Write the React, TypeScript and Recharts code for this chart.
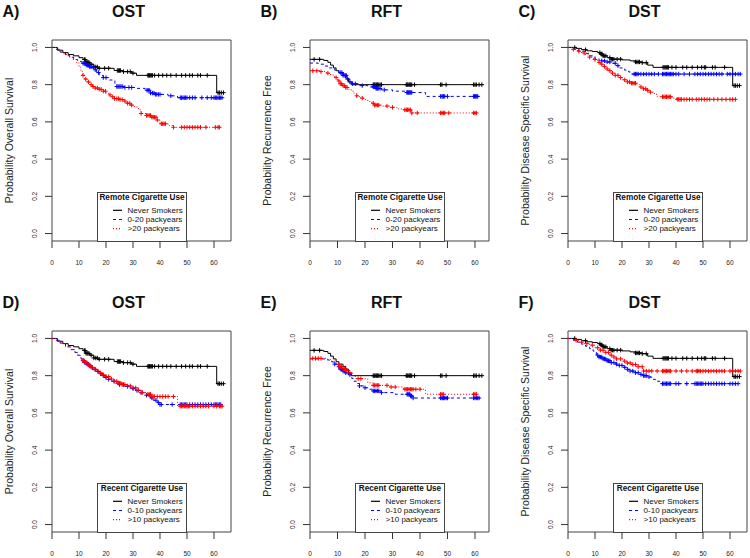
import React from "react";
import { ComposedChart, Line, Scatter, XAxis, YAxis, ReferenceArea, Legend } from "recharts";

const FONT = '"Liberation Sans", Arial, Helvetica, sans-serif';
const X_TICKS = [0, 10, 20, 30, 40, 50, 60];
const Y_TICKS = [0, 0.2, 0.4, 0.6, 0.8, 1.0];
const Y_MIN = -0.04;
const Y_MAX = 1.04;

const BLACK = "#000000";
const BLUE = "#0000FF";
const RED = "#FF0000";

// ---------- OST: never smokers (A, D) ----------
const ostNeverT = [0, 2, 4, 6, 8, 10, 11.5, 12.5, 14, 15.5, 17, 23, 26, 29.5, 31.3, 61];
const ostNeverS = [1, 0.985, 0.972, 0.962, 0.955, 0.945, 0.935, 0.92, 0.91, 0.895, 0.888, 0.876, 0.87, 0.862, 0.85, 0.757];
const ostNeverC = [12, 12.3, 12.6, 13, 13.3, 13.7, 14.5, 15.5, 16.2, 16.8, 17.5, 19.5, 21, 24.2, 24.6, 25, 25.4, 26.5, 28, 29, 30, 35.5, 35.8, 36.1, 36.4, 36.8, 37.2, 38, 39.5, 41, 42.5, 44, 46, 48, 49.5, 51, 52, 54, 55, 57.5, 61.5, 62, 62.7, 63.5];

// A: remote 0-20
const ostRem020T = [0, 1.5, 3, 5, 6.5, 8, 9.5, 11, 12.5, 14, 15.5, 16.5, 17.5, 19, 21, 23.3, 27, 31, 34.5, 36.5, 38, 43, 46.5];
const ostRem020S = [1, 0.99, 0.975, 0.958, 0.948, 0.935, 0.925, 0.915, 0.905, 0.895, 0.88, 0.865, 0.85, 0.838, 0.825, 0.79, 0.785, 0.78, 0.77, 0.755, 0.748, 0.74, 0.73];
const ostRem020C = [11.5, 11.9, 12.3, 12.7, 13.1, 13.5, 14, 14.5, 15.2, 16, 17.2, 19, 20, 24, 24.4, 24.8, 25.2, 25.6, 26.2, 27, 28.5, 29.5, 35.2, 35.6, 36, 36.5, 37.2, 37.8, 38.3, 38.8, 39.4, 40, 44, 47.5, 48, 48.5, 49, 49.5, 50, 51, 52, 53, 55.5, 57.5, 59, 60, 60.5, 61, 61.5, 62, 62.5, 63];

// A: remote >20
const ostRem20T = [0, 1.5, 3, 4.5, 6, 7.5, 9, 10, 10.7, 11.3, 12, 13, 14, 15, 16, 17.5, 19, 20, 21, 22, 23, 25, 26.5, 27.5, 29, 30.5, 32, 33, 35, 37, 39, 40, 43, 45];
const ostRem20S = [1, 0.99, 0.975, 0.962, 0.948, 0.935, 0.92, 0.895, 0.87, 0.85, 0.83, 0.815, 0.8, 0.79, 0.782, 0.775, 0.765, 0.755, 0.745, 0.735, 0.725, 0.72, 0.712, 0.7, 0.69, 0.68, 0.665, 0.645, 0.635, 0.625, 0.61, 0.59, 0.58, 0.571];
const ostRem20C = [11.5, 12.5, 13.5, 14.5, 15.2, 16, 16.8, 17.5, 18.2, 19, 19.8, 21.5, 22.5, 23.2, 24, 24.6, 25.2, 26, 27, 28, 28.8, 29.5, 33, 35, 35.5, 36, 36.5, 37, 37.5, 38, 38.5, 39, 40.5, 41, 41.5, 42, 45, 48, 49, 50, 51, 52, 53, 54, 55, 57, 60.5, 61.5, 62];

// D: recent 0-10
const ostRec010T = [0, 1.5, 3, 5, 7, 8.5, 9.5, 10.3, 11, 12, 13, 14, 15, 16, 17, 18, 19, 20, 21, 22, 23.5, 25, 27, 29, 31, 33, 35, 36.5, 37.5, 39, 40];
const ostRec010S = [1, 0.99, 0.975, 0.955, 0.94, 0.925, 0.91, 0.895, 0.882, 0.872, 0.862, 0.852, 0.842, 0.832, 0.822, 0.81, 0.8, 0.79, 0.78, 0.77, 0.76, 0.752, 0.742, 0.73, 0.72, 0.708, 0.695, 0.68, 0.668, 0.655, 0.645];
const ostRec010C = [11.5, 12, 12.5, 13, 13.5, 14, 15, 16, 17, 18, 19, 20, 21, 23, 25, 26.5, 28, 30, 31.5, 33, 35, 36, 37, 38.5, 39.5, 40, 40.5, 44.5, 47.5, 48, 48.5, 49, 49.5, 50, 51, 52, 53, 54, 55, 56, 57, 58, 59, 60, 60.5, 61, 61.5, 62, 62.5];

// D: recent >10
const ostRec10T = [0, 1.5, 3, 5, 7, 8.5, 9.5, 10.5, 11.5, 12.5, 13.5, 14.5, 15.5, 16.5, 17.5, 19, 20, 21.5, 23, 24.5, 26, 28, 30, 32, 33.5, 35, 37, 46.5];
const ostRec10S = [1, 0.99, 0.975, 0.955, 0.94, 0.925, 0.91, 0.895, 0.88, 0.868, 0.857, 0.845, 0.835, 0.825, 0.815, 0.805, 0.795, 0.782, 0.77, 0.76, 0.752, 0.745, 0.735, 0.722, 0.71, 0.7, 0.688, 0.636];
const ostRec10C = [11.5, 12, 12.5, 13, 13.5, 14, 14.5, 15, 16, 17, 18, 19, 20, 21, 22, 23, 24, 24.5, 25, 25.5, 26, 27, 28, 29, 30, 31, 32, 33.5, 35.5, 36, 36.5, 37, 37.5, 38, 39, 40, 41, 42, 43, 45, 47.5, 48, 48.5, 49, 49.5, 50, 50.5, 51, 52, 53, 54, 55, 56, 57, 58, 60, 61, 62, 62.5, 63];

// ---------- RFT: never smokers (B, E) ----------
const rftNeverT = [0, 5, 6.5, 7.5, 8.5, 9.5, 10.5, 12, 13, 14, 15];
const rftNeverS = [0.936, 0.93, 0.92, 0.905, 0.89, 0.875, 0.862, 0.85, 0.835, 0.815, 0.8];
const rftNeverC = [1.5, 3.5, 23, 23.3, 23.6, 24, 24.3, 24.6, 25, 25.5, 26, 35, 35.3, 35.6, 36, 36.3, 36.6, 37, 38, 47.5, 48, 49.5, 59.5, 60, 60.5, 61.5, 62.5];

// B: remote 0-20
const rftRem020T = [0, 3, 5, 7, 9, 10.5, 12, 13.5, 14.5, 15.5, 18, 21, 24, 26, 30, 35, 42];
const rftRem020S = [0.916, 0.91, 0.9, 0.89, 0.878, 0.865, 0.85, 0.83, 0.815, 0.805, 0.795, 0.788, 0.78, 0.772, 0.765, 0.758, 0.737];
const rftRem020C = [11.2, 11.6, 12, 12.4, 12.8, 13.2, 13.6, 14.5, 15.5, 16.5, 19, 23, 23.3, 23.6, 24, 24.3, 24.6, 25, 25.5, 27, 35.2, 35.5, 35.8, 36.1, 36.4, 36.7, 37, 47.5, 48, 48.3, 48.6, 49, 50, 59.5, 59.8, 60.1, 60.4, 60.7, 61];

// B: remote >20
const rftRem20T = [0, 4, 6, 7.5, 9, 10, 11, 12, 13, 14, 15, 16, 17, 18, 19.5, 21, 22.5, 23.5, 26, 29, 32, 34, 37];
const rftRem20S = [0.875, 0.87, 0.862, 0.852, 0.838, 0.82, 0.805, 0.795, 0.785, 0.775, 0.765, 0.752, 0.74, 0.728, 0.72, 0.71, 0.7, 0.69, 0.685, 0.678, 0.67, 0.665, 0.648];
const rftRem20C = [1, 2.5, 4, 6.5, 9.5, 10.5, 11, 11.5, 12, 12.5, 13, 13.5, 17, 19, 23, 23.5, 24, 24.5, 25, 28, 30, 34.5, 35, 35.5, 36, 36.5, 37, 39, 47.5, 48, 48.5, 49, 50.5, 59.5, 60, 60.5];

// E: recent 0-10
const rftRec010T = [0, 5.5, 7, 8.5, 10, 11, 12, 13, 14.5, 15.2, 16, 17, 18, 19.5, 21, 23, 26, 31, 36.5, 37.5];
const rftRec010S = [0.89, 0.885, 0.875, 0.862, 0.848, 0.835, 0.825, 0.815, 0.805, 0.785, 0.77, 0.758, 0.745, 0.735, 0.727, 0.718, 0.709, 0.7, 0.691, 0.68];
const rftRec010C = [9, 10.5, 11, 11.5, 12, 12.5, 13, 14, 14.5, 18, 20, 23, 23.5, 24, 24.5, 25, 26, 35.3, 35.6, 36, 36.3, 36.6, 37, 37.5, 47.5, 48, 48.3, 48.6, 49, 49.5, 50, 59.5, 60, 60.5, 61, 61.5];

// E: recent >10
const rftRec10T = [0, 6, 7.5, 9, 10, 11, 12, 13, 14.5, 15.5, 16.5, 21, 23, 29, 34, 42];
const rftRec10S = [0.893, 0.888, 0.878, 0.868, 0.858, 0.848, 0.838, 0.828, 0.816, 0.8, 0.784, 0.762, 0.748, 0.739, 0.727, 0.7];
const rftRec10C = [1, 2, 3, 4, 10.5, 11, 11.5, 12, 12.5, 13, 13.5, 14.5, 17.5, 18.5, 23, 23.5, 24, 24.5, 25, 28, 29.5, 31, 34.5, 35, 35.5, 36, 36.5, 37, 37.5, 38.5, 40, 47.5, 48, 48.5, 59.5, 60, 60.5];

// ---------- DST: never smokers (C, F) ----------
const dstNeverT = [0, 3, 5, 7, 9, 11, 12, 13, 14.5, 16, 20, 23, 25, 27.5, 29.5, 31.5, 61];
const dstNeverS = [1, 0.995, 0.988, 0.982, 0.978, 0.972, 0.965, 0.955, 0.945, 0.937, 0.933, 0.928, 0.922, 0.918, 0.905, 0.893, 0.795];
const dstNeverC = [2.5, 6.5, 11.8, 12.2, 12.6, 13, 13.4, 14, 15.5, 16, 16.5, 17, 18.2, 19.5, 25, 25.5, 26, 26.5, 27.5, 29, 35.2, 35.6, 36, 36.4, 36.8, 37.2, 38.5, 40, 42.5, 44, 46, 48, 49.5, 50.5, 51, 53.5, 54.5, 58, 61.5, 62, 62.7, 63.5];

// C: remote 0-20
const dstRem020T = [0, 2, 4, 6, 8, 10, 11.5, 14, 16.5, 18, 19, 21, 22.5, 23.5];
const dstRem020S = [1, 0.992, 0.98, 0.968, 0.955, 0.94, 0.928, 0.922, 0.915, 0.902, 0.89, 0.878, 0.868, 0.857];
const dstRem020C = [12.5, 13.5, 14.5, 15.5, 17.5, 18.5, 24.5, 25, 25.5, 26, 27, 28, 29, 30, 31, 32, 33.5, 35, 35.5, 36, 36.5, 37, 37.5, 38, 38.5, 39, 40, 41, 43, 45, 47, 48, 49, 50, 51, 52, 53, 54, 55, 56, 57, 59, 60, 61, 62, 63, 63.8];

// C: remote >20
const dstRem20T = [0, 2, 3.5, 5, 6.5, 8, 9.5, 11, 12, 13, 14, 15, 16, 17.5, 19, 20.5, 22, 23.5, 25.5, 26.5, 27.5, 29, 30.5, 32, 33, 38.5, 40.2];
const dstRem20S = [1, 0.99, 0.98, 0.97, 0.96, 0.948, 0.935, 0.92, 0.91, 0.898, 0.885, 0.875, 0.862, 0.85, 0.838, 0.826, 0.815, 0.808, 0.8, 0.788, 0.778, 0.77, 0.76, 0.748, 0.735, 0.728, 0.721];
const dstRem20C = [2, 4, 6, 8, 10, 11.5, 12.5, 13.5, 14.5, 15.5, 16.5, 17.5, 18.5, 19.5, 21, 22, 22.8, 23.5, 24, 24.5, 25, 27, 28, 28.8, 29.5, 30.5, 35, 35.5, 36, 36.5, 37, 37.5, 38, 40.5, 41, 41.5, 42, 43, 44, 45, 46, 47.5, 48.5, 49.5, 50.5, 51.5, 52.5, 54, 55.5, 57, 58.5, 60, 61, 62];

// F: recent 0-10
const dstRec010T = [0, 2, 3.5, 5, 6.5, 8, 9.3, 10.5, 11.5, 13, 14.5, 16, 17.5, 19, 20.5, 21.6, 23, 24.5, 26.5, 28, 29.5, 31, 32.5, 34];
const dstRec010S = [1, 0.99, 0.98, 0.97, 0.958, 0.945, 0.932, 0.91, 0.9, 0.89, 0.88, 0.87, 0.862, 0.855, 0.845, 0.834, 0.825, 0.816, 0.807, 0.8, 0.793, 0.78, 0.77, 0.757];
const dstRec010C = [11, 11.5, 12, 12.5, 13, 13.5, 14, 14.5, 15, 15.5, 16, 17, 18, 19, 20, 21, 22, 23, 24, 25, 26, 27, 28, 28.5, 29, 30, 35, 35.5, 36, 36.5, 37, 37.5, 38, 40, 41, 44, 47, 47.5, 48, 48.5, 49, 49.5, 50, 51, 52, 53, 54, 55, 56, 57, 58, 60, 61, 62, 63];

// F: recent >10
const dstRec10T = [0, 2, 4, 6, 8, 10, 11.8, 13.5, 15.5, 17, 18, 20.4, 22, 23.5, 26, 27.8];
const dstRec10S = [1, 0.99, 0.98, 0.972, 0.964, 0.95, 0.937, 0.925, 0.91, 0.9, 0.89, 0.878, 0.868, 0.86, 0.848, 0.825];
const dstRec10C = [3, 5, 7, 9, 11, 12, 13, 14, 15, 16, 17, 18, 19.5, 21, 22, 23, 24, 25, 26, 27.5, 28, 29, 30, 31, 33, 35, 35.5, 36, 36.5, 37, 37.5, 38, 40, 42, 44, 46, 47.5, 48, 48.5, 49, 50, 51, 52, 53, 54, 55, 56, 57, 58, 60, 61, 62, 63, 63.8];

type Series = { name: string; color: string; dash?: string; t: number[]; s: number[]; c: number[] };

const never = (t: number[], s: number[], c: number[]): Series => ({ name: "Never Smokers", color: BLACK, t, s, c });
const mid = (label: string, t: number[], s: number[], c: number[]): Series => ({ name: label, color: BLUE, dash: "3 3", t, s, c });
const high = (label: string, t: number[], s: number[], c: number[]): Series => ({ name: label, color: RED, dash: "1 2", t, s, c });

const PANELS = [
  { letter: "A)", title: "OST", ylabel: "Probability Overall Survival", boxLeft: 52, rowTop: 0, xMax: 66.3, legendTitle: "Remote Cigarette Use",
    series: [never(ostNeverT, ostNeverS, ostNeverC), mid("0-20 packyears", ostRem020T, ostRem020S, ostRem020C), high(">20 packyears", ostRem20T, ostRem20S, ostRem20C)] },
  { letter: "B)", title: "RFT", ylabel: "Probability Recurrence Free", boxLeft: 310, rowTop: 0, xMax: 65.1, legendTitle: "Remote Cigarette Use",
    series: [never(rftNeverT, rftNeverS, rftNeverC), mid("0-20 packyears", rftRem020T, rftRem020S, rftRem020C), high(">20 packyears", rftRem20T, rftRem20S, rftRem20C)] },
  { letter: "C)", title: "DST", ylabel: "Probability Disease Specific Survival", boxLeft: 568, rowTop: 0, xMax: 66.3, legendTitle: "Remote Cigarette Use",
    series: [never(dstNeverT, dstNeverS, dstNeverC), mid("0-20 packyears", dstRem020T, dstRem020S, dstRem020C), high(">20 packyears", dstRem20T, dstRem20S, dstRem20C)] },
  { letter: "D)", title: "OST", ylabel: "Probability Overall Survival", boxLeft: 52, rowTop: 291, xMax: 66.3, legendTitle: "Recent Cigarette Use",
    series: [never(ostNeverT, ostNeverS, ostNeverC), mid("0-10 packyears", ostRec010T, ostRec010S, ostRec010C), high(">10 packyears", ostRec10T, ostRec10S, ostRec10C)] },
  { letter: "E)", title: "RFT", ylabel: "Probability Recurrence Free", boxLeft: 310, rowTop: 291, xMax: 65.1, legendTitle: "Recent Cigarette Use",
    series: [never(rftNeverT, rftNeverS, rftNeverC), mid("0-10 packyears", rftRec010T, rftRec010S, rftRec010C), high(">10 packyears", rftRec10T, rftRec10S, rftRec10C)] },
  { letter: "F)", title: "DST", ylabel: "Probability Disease Specific Survival", boxLeft: 568, rowTop: 291, xMax: 66.3, legendTitle: "Recent Cigarette Use",
    series: [never(dstNeverT, dstNeverS, dstNeverC), mid("0-10 packyears", dstRec010T, dstRec010S, dstRec010C), high(">10 packyears", dstRec10T, dstRec10S, dstRec10C)] },
];

// layout constants of each panel's chart (plot box edges inside the chart svg)
const CHART_W = 234;
const CHART_H = 280;
const PLOT_LEFT = 52;
const PLOT_TOP = 40;
const PLOT_BOTTOM = 241;
const PLOT_RIGHT = 231;
const TICK_LEN = 7;

function stepData(se: Series) {
  const pts = se.t.map((t, i) => ({ t, s: se.s[i] }));
  const last = Math.max(se.t[se.t.length - 1], ...se.c);
  pts.push({ t: last, s: se.s[se.s.length - 1] });
  return pts;
}

function censorData(se: Series) {
  return se.c.map((ct) => {
    let v = se.s[0];
    se.t.forEach((t, i) => {
      if (t <= ct) v = se.s[i];
    });
    return { t: ct, s: v };
  });
}

const plusShape = (color: string) => (props: any) => {
  const { cx, cy } = props;
  if (cx == null || cy == null) return <g />;
  const h = 2.2;
  return <path d={`M${cx - h},${cy}H${cx + h}M${cx},${cy - h}V${cy + h}`} stroke={color} strokeWidth={1} fill="none" />;
};

const renderXTick = (p: any) => (
  <text x={p.x} y={262.5} textAnchor="middle" dominantBaseline="central" fontSize={6.5} fill="#222" stroke="none" fontFamily={FONT}>
    {p.payload.value}
  </text>
);

const renderYTick = (p: any) => (
  <text x={35} y={p.y} transform={`rotate(-90 35 ${p.y})`} textAnchor="middle" dominantBaseline="central" fontSize={6.5} fill="#222" stroke="none" fontFamily={FONT}>
    {Number(p.payload.value).toFixed(1)}
  </text>
);

function LegendBox({ title, series }: { title: string; series: Series[] }) {
  return (
    <svg width={90} height={50} style={{ display: "block", overflow: "visible" }}>
      <rect x={0.5} y={0.5} width={89} height={49} fill="#fff" stroke="#444" strokeWidth={1} />
      <text x={45} y={5.6} textAnchor="middle" dominantBaseline="central" fontWeight="bold" fontSize={8.2} fontFamily={FONT} fill="#111">
        {title}
      </text>
      {series.map((se, i) => {
        const y = 18.3 + i * 9.2;
        return (
          <g key={se.name}>
            <line x1={16} x2={25} y1={y} y2={y} stroke={se.color} strokeWidth={1.2} strokeDasharray={se.dash} />
            <text x={30.6} y={y} dominantBaseline="central" fontSize={8} fontFamily={FONT} fill="#111">
              {se.name}
            </text>
          </g>
        );
      })}
    </svg>
  );
}

function Panel({ p }: { p: (typeof PANELS)[number] }) {
  return (
    <div style={{ position: "absolute", left: p.boxLeft - PLOT_LEFT, top: p.rowTop, width: CHART_W, height: CHART_H }}>
      <ComposedChart
        width={CHART_W}
        height={CHART_H}
        margin={{ top: PLOT_TOP, right: CHART_W - PLOT_RIGHT, bottom: CHART_H - PLOT_BOTTOM - 30, left: 0 }}
      >
        <XAxis
          type="number"
          dataKey="t"
          domain={[0, p.xMax]}
          ticks={X_TICKS}
          interval={0}
          tickSize={TICK_LEN}
          axisLine={false}
          tickLine={{ stroke: "#333", strokeWidth: 1 }}
          height={30}
          tick={renderXTick}
          allowDataOverflow
        />
        <YAxis
          type="number"
          domain={[Y_MIN, Y_MAX]}
          ticks={Y_TICKS}
          interval={0}
          tickSize={TICK_LEN}
          axisLine={false}
          tickLine={{ stroke: "#333", strokeWidth: 1 }}
          width={PLOT_LEFT}
          tick={renderYTick}
          allowDataOverflow
        />
        <ReferenceArea x1={0} x2={p.xMax} y1={Y_MIN} y2={Y_MAX} fill="none" fillOpacity={0} stroke="#444" strokeWidth={1} ifOverflow="visible" />
        {p.series.map((se) => (
          <Line
            key={"l" + se.name}
            data={stepData(se)}
            dataKey="s"
            type="stepAfter"
            stroke={se.color}
            strokeWidth={1}
            strokeDasharray={se.dash}
            dot={false}
            activeDot={false}
            isAnimationActive={false}
          />
        ))}
        {p.series.map((se) => (
          <Scatter key={"c" + se.name} data={censorData(se)} dataKey="s" shape={plusShape(se.color)} isAnimationActive={false} />
        ))}
        <Legend
          layout="horizontal"
          verticalAlign="middle"
          align="center"
          wrapperStyle={{ left: 96.7, top: 191.7, width: 90, height: 50 }}
          content={() => <LegendBox title={p.legendTitle} series={p.series} />}
        />
      </ComposedChart>
    </div>
  );
}

export default function App() {
  return (
    <div style={{ position: "absolute", left: 0, top: 0, width: 750, height: 558, overflow: "hidden", background: "#fff", fontFamily: FONT }}>
      {PANELS.map((p) => (
        <Panel key={p.letter} p={p} />
      ))}
      <svg width={750} height={558} style={{ position: "absolute", left: 0, top: 0, pointerEvents: "none" }}>
        {PANELS.map((p) => (
          <g key={"t" + p.letter} fontFamily={FONT}>
            <text x={p.boxLeft - 49.5} y={p.rowTop + 16.7} fontWeight="bold" fontSize={16} fill="#111">
              {p.letter}
            </text>
            <text x={p.boxLeft + 76.5} y={p.rowTop + 16.7} textAnchor="middle" fontWeight="bold" fontSize={16} fill="#111">
              {p.title}
            </text>
            <text
              transform={`translate(${p.boxLeft - 43.5},${p.rowTop + 140.5}) rotate(-90)`}
              textAnchor="middle"
              dominantBaseline="central"
              fontSize={10.5}
              fill="#222"
            >
              {p.ylabel}
            </text>
          </g>
        ))}
      </svg>
    </div>
  );
}
